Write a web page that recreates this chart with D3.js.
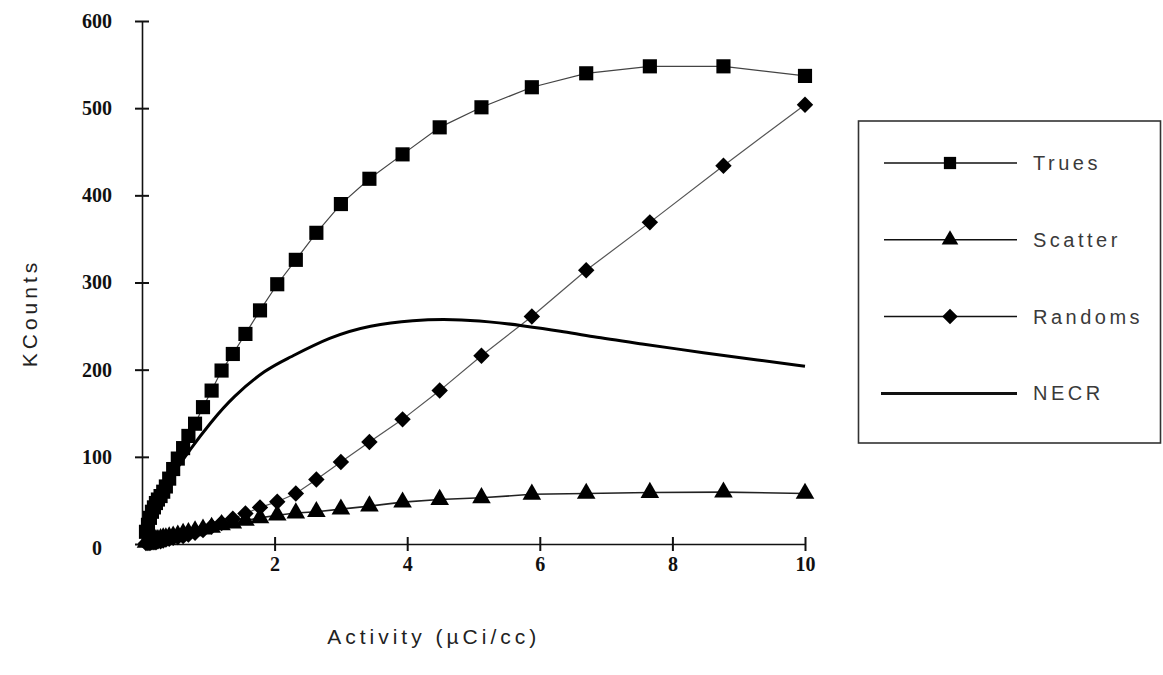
<!DOCTYPE html>
<html>
<head>
<meta charset="utf-8">
<script src="https://cdn.jsdelivr.net/npm/d3@7/dist/d3.min.js"></script>
<style>
  body { margin: 0; background: #fff; }
  svg { display: block; }
  .num { font-family: "Liberation Serif", "Times New Roman", serif; font-weight: bold; font-size: 20px; fill: #111; }
  .lbl { font-family: "Liberation Sans", Arial, sans-serif; font-size: 20px; fill: #3a3a3a; letter-spacing: 3.5px; }
  .title { font-family: "Liberation Sans", Arial, sans-serif; font-size: 21px; fill: #222; letter-spacing: 4px; }
</style>
</head>
<body>
<div id="chart"></div>
<script>
// activity (uCi/cc) of each acquisition frame
const activity = [0.06, 0.09, 0.12, 0.15, 0.18, 0.21, 0.24, 0.28, 0.32, 0.36, 0.41, 0.47, 0.54, 0.62, 0.70, 0.80, 0.92,
  1.05, 1.20, 1.37, 1.56, 1.78, 2.04, 2.32, 2.63, 3.00, 3.43, 3.93, 4.49, 5.12, 5.88, 6.70, 7.66, 8.77, 10.0];

// KCounts for each frame
const trues = [14, 22, 30, 37, 42, 47, 51, 55, 60, 66, 75, 86, 98, 110, 124, 138, 157,
  176, 199, 218, 241, 268, 298, 326, 357, 390, 419, 447, 478, 501, 524, 540, 548, 548, 537];
const scatter = [2, 3, 3, 4, 4, 5, 5, 6, 7, 7, 8, 9, 10, 12, 13, 15, 17,
  19, 22, 24, 27, 30, 33, 35.5, 37, 40, 43.5, 48, 51, 53, 57, 58, 59, 59.5, 58];
const randoms = [1, 1, 1, 2, 2, 2, 3, 3, 4, 5, 6, 7, 8, 9, 11, 13, 16,
  20, 24, 29, 35, 42, 48.5, 58, 74, 94, 117, 143, 176, 216, 261, 314, 369, 434, 504];

// NECR drawn as a smooth curve
const necrActivity = [0.05, 0.12, 0.27, 0.47, 0.72, 1.03, 1.37, 1.88, 2.18, 2.84, 3.44, 4.09, 4.70, 5.25, 5.70, 6.35, 6.76, 7.5, 8.5, 9.3, 10.0];
const necr = [10, 27, 50, 81, 108, 139, 169, 201, 212, 238, 251, 257, 258, 255, 251, 244, 238, 230, 219, 211, 204];

const xTicks = [2, 4, 6, 8, 10];
const yTicks = [0, 100, 200, 300, 400, 500, 600];
const legendNames = ["Trues", "Scatter", "Randoms", "NECR"];

const width = 1163, height = 675;

const svg = d3.select("#chart").append("svg")
  .attr("width", width)
  .attr("height", height);

const x = d3.scaleLinear().domain([0, 10]).range([142, 805]);
const y = d3.scaleLinear().domain([0, 600]).range([544, 21]);

// axes
const yAxis = svg.append("g")
  .attr("transform", `translate(${x(0)},0)`)
  .call(d3.axisLeft(y).tickValues(yTicks).tickSize(0).tickPadding(0));
yAxis.select(".domain").attr("stroke", "#111").attr("stroke-width", 1.6);
yAxis.selectAll(".tick line").attr("x1", -7).attr("x2", 7).attr("stroke", "#111").attr("stroke-width", 2);
yAxis.selectAll(".tick text")
  .attr("class", "num")
  .attr("x", -45)
  .attr("dy", d => d === 0 ? "0.5em" : "0.32em")
  .attr("text-anchor", "middle")
  .attr("font-family", null).attr("font-size", null);

const xAxis = svg.append("g")
  .attr("transform", `translate(0,${y(0)})`)
  .call(d3.axisBottom(x).tickValues(xTicks).tickSize(0).tickPadding(0));
xAxis.select(".domain").attr("stroke", "#111").attr("stroke-width", 1.6);
xAxis.selectAll(".tick line").attr("y1", -7).attr("y2", 7).attr("stroke", "#111").attr("stroke-width", 2);
xAxis.selectAll(".tick text")
  .attr("class", "num")
  .attr("y", 13)
  .attr("font-family", null).attr("font-size", null);

// axis titles
svg.append("text")
  .attr("class", "title")
  .attr("transform", `translate(30,${y(265)}) rotate(-90)`)
  .attr("text-anchor", "middle")
  .attr("dy", "0.35em")
  .text("KCounts");

svg.append("text")
  .attr("class", "title")
  .attr("x", x(4.4))
  .attr("y", 637)
  .attr("text-anchor", "middle")
  .attr("dy", "0.35em")
  .text("Activity (\u00b5Ci/cc)");

// marker symbols
const squareSym = d3.symbol().type(d3.symbolSquare).size(200);
const triangleSym = d3.symbol().type(d3.symbolTriangle).size(150);
const diamondSym = d3.symbol().type(d3.symbolSquare).size(135);

const line = d3.line()
  .x(d => x(d[0]))
  .y(d => y(d[1]));

function drawSeries(values, sym, rotate, lineWidth, lineColor) {
  const pts = activity.map((a, i) => [a, values[i]]);
  svg.append("path")
    .datum(pts)
    .attr("fill", "none")
    .attr("stroke", lineColor)
    .attr("stroke-width", lineWidth)
    .attr("d", line);
  svg.append("g").selectAll("path")
    .data(pts)
    .enter()
    .append("path")
    .attr("d", sym())
    .attr("transform", d => `translate(${x(d[0])},${y(d[1])}) rotate(${rotate})`)
    .attr("fill", "#000");
}

drawSeries(scatter, triangleSym, 0, 1.6, "#222");
drawSeries(randoms, diamondSym, 45, 1.2, "#555");
drawSeries(trues, squareSym, 0, 1.2, "#444");

// NECR
svg.append("path")
  .datum(necrActivity.map((a, i) => [a, necr[i]]))
  .attr("fill", "none")
  .attr("stroke", "#000")
  .attr("stroke-width", 3)
  .attr("d", line.curve(d3.curveBasis));

// legend
const legend = svg.append("g");
legend.append("rect")
  .attr("x", 858.5).attr("y", 121)
  .attr("width", 302).attr("height", 322)
  .attr("fill", "#fff")
  .attr("stroke", "#333")
  .attr("stroke-width", 1.6);

const legendSyms = [squareSym, triangleSym, diamondSym, null];
const legendRot = [0, 0, 45, 0];
legendNames.forEach((name, i) => {
  const ly = 163 + i * 76.8;
  const g = legend.append("g").attr("transform", `translate(0,${ly})`);
  g.append("line")
    .attr("x1", i === 3 ? 881 : 884).attr("x2", 1017)
    .attr("stroke", "#111")
    .attr("stroke-width", i === 3 ? 3 : 1.5);
  if (legendSyms[i]) {
    g.append("path")
      .attr("d", legendSyms[i].size(i === 0 ? 150 : 120)())
      .attr("transform", `translate(950,0) rotate(${legendRot[i]})`)
      .attr("fill", "#000");
  }
  g.append("text")
    .attr("class", "lbl")
    .attr("x", 1033)
    .attr("dy", "0.35em")
    .text(name);
});
</script>
</body>
</html>
